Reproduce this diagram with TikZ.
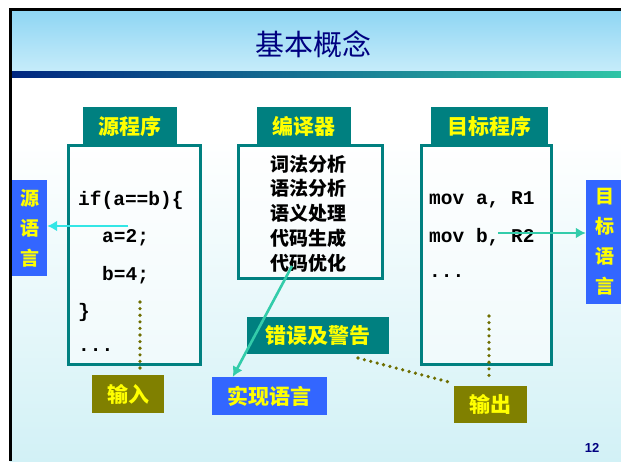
\documentclass[tikz,border=0pt]{standalone}
\usepackage{fontspec}
\newfontfamily\cjk{Noto Sans CJK SC}
\newfontfamily\codefont{Liberation Mono}
\setsansfont{Liberation Sans}
\usetikzlibrary{arrows.meta,calc}
\definecolor{tealbox}{HTML}{008080}
\definecolor{labyellow}{HTML}{FFFF00}
\definecolor{bluebox}{HTML}{3366FF}
\definecolor{olivebox}{HTML}{808000}
\definecolor{navy}{HTML}{000080}
\definecolor{arrcyan}{HTML}{33E6E6}
\definecolor{arrgreen}{HTML}{33CCAA}
\definecolor{dotolive}{HTML}{6E6E00}
\definecolor{skytop}{HTML}{8ED5F3}
\definecolor{skybot}{HTML}{C6ECFA}
\definecolor{waterbg}{HTML}{D2F1F6}
\tikzset{
  titlebox/.style={fill=tealbox, text=labyellow, font=\cjk\bfseries\fontsize{21}{24}\selectfont, inner sep=0pt},
  mainbox/.style={draw=tealbox, line width=3pt, fill=white, fill opacity=0.55, text opacity=1},
  codeline/.style={anchor=west, font=\codefont\bfseries\fontsize{19.5}{22}\selectfont, inner sep=0pt},
  compline/.style={font=\cjk\bfseries\fontsize{19}{22}\selectfont, inner sep=0pt},
  bluelab/.style={fill=bluebox, text=labyellow, font=\cjk\bfseries\fontsize{21}{24}\selectfont, inner sep=0pt},
  olivelab/.style={fill=olivebox, text=labyellow, font=\cjk\bfseries\fontsize{21}{24}\selectfont, inner sep=0pt},
  teallab/.style={fill=tealbox, text=labyellow, font=\cjk\bfseries\fontsize{21}{24}\selectfont, inner sep=0pt},
  vertlab/.style={fill=bluebox, text=labyellow, font=\cjk\bfseries\fontsize{19}{30}\selectfont, inner sep=0pt, align=center},
  dotline/.style={draw=dotolive, line width=3.6pt, line cap=round, dash pattern=on 0pt off 6.6pt},
  arrowline/.style={line width=2.6pt, -{Latex[length=10pt,width=11pt]}}
}
\begin{document}
\begin{tikzpicture}[x=1pt,y=-1pt]
\useasboundingbox (0,0) rectangle (621,461);
% background
\fill[white] (0,0) rectangle (621,461);
\shade[top color=white, bottom color=waterbg] (10,140) rectangle (621,461);
% title bar
\shade[top color=skytop, bottom color=skybot] (10,10) rectangle (621,71);
\shade[left color=navy!70!teal, right color=arrgreen!90!teal] (10,71) rectangle (621,77);
\draw[black, line width=3pt] (10,461) -- (10,9.5) -- (621,9.5);
\node[text=navy, font=\cjk\fontsize{29}{32}\selectfont] (title) at (313,44) {基本概念};
% main boxes
\node[titlebox, minimum width=94pt, minimum height=38pt] (srct) at (130,126) {源程序};
\node[mainbox, minimum width=132pt, minimum height=219pt] (src) at (134,255) {};
\node[titlebox, minimum width=94pt, minimum height=39pt] (compt) at (304,126) {编译器};
\node[mainbox, minimum width=144pt, minimum height=133pt] (comp) at (310,211.5) {};
\node[titlebox, minimum width=117pt, minimum height=39pt] (tgtt) at (489.5,126) {目标程序};
\node[mainbox, minimum width=130pt, minimum height=219pt] (tgt) at (486,254.5) {};
% source code
\node[codeline] (s1) at (78,200) {if(a==b)\{};
\node[codeline] (s2) at (102,238) {a=2;};
\node[codeline] (s3) at (102,275) {b=4;};
\node[codeline] (s4) at (78,312) {\}};
\node[codeline] (s5) at (78,350) {...};
% compiler phases
\node[compline] (c1) at (308,164) {词法分析};
\node[compline] (c2) at (308,188.75) {语法分析};
\node[compline] (c3) at (308,213.5) {语义处理};
\node[compline] (c4) at (308,238.25) {代码生成};
\node[compline] (c5) at (308,263) {代码优化};
% target code
\node[codeline] (t1) at (429,200) {mov a, R1};
\node[codeline] (t2) at (429,237) {mov b, R2};
\node[codeline] (t3) at (429,276) {...};
% side labels
\node[vertlab, minimum width=35pt, minimum height=96pt] (srclang) at (29.5,228) {源\\语\\言};
\node[vertlab, minimum width=38pt, minimum height=124pt] (tgtlang) at (605,242) {目\\标\\语\\言};
% bottom labels
\node[teallab, minimum width=142pt, minimum height=37pt] (err) at (318,335.5) {错误及警告};
\node[olivelab, minimum width=72pt, minimum height=38pt] (inp) at (128,394) {输入};
\node[bluelab, minimum width=115pt, minimum height=38pt] (impl) at (269.5,396) {实现语言};
\node[olivelab, minimum width=73pt, minimum height=37pt] (outp) at (490.5,404.5) {输出};
% connector endpoints
\coordinate (a1s) at (128,226);
\coordinate (a2s) at (292,266);
\coordinate (a3s) at (498,233);
\coordinate (d1s) at (140,302);
\coordinate (d2s) at (489,316);
\coordinate (d3s) at (358,358);
% arrows
\draw[arrowline, arrcyan] (a1s) -- (srclang.east |- a1s);
\draw[arrowline, arrgreen] (a2s) -- ($(impl.north west)+(21,0)$);
\draw[arrowline, arrgreen] (a3s) -- (tgtlang.west |- a3s);
% dotted
\draw[dotline] (d1s) -- ($(inp.north)+(12,-3)$);
\draw[dotline] (d2s) -- ($(outp.north)+(-1.5,-5)$);
\draw[dotline] (d3s) -- ($(outp.north west)+(-2,-3)$);
% page number
\node[text=navy, font=\sffamily\bfseries\fontsize{13}{15}\selectfont] (pg) at (592,448) {12};
\end{tikzpicture}
\end{document}
